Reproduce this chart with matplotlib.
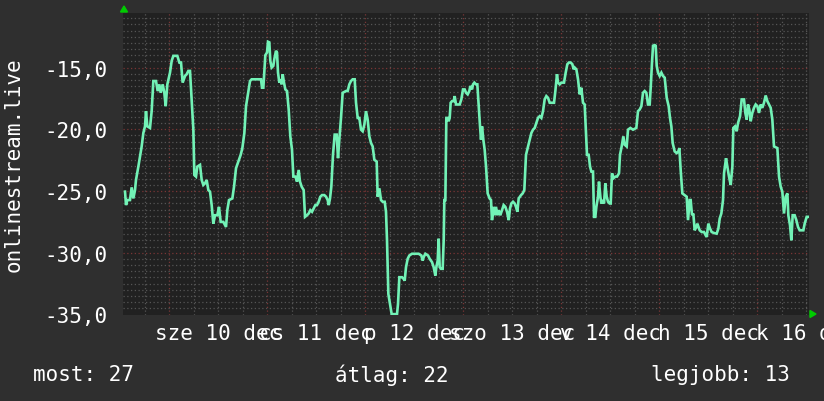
import matplotlib
matplotlib.use("Agg")
import matplotlib.pyplot as plt
from matplotlib.patches import Polygon

# hours since 10 Dec 00:00
hours = [
    -10.85, -10.60, -10.28, -9.63, -9.22, -8.81, -8.40, -8.16, -7.58, -7.18, -6.77, -6.36, -5.95, -5.71, -5.38,
    -4.73, -4.32, -3.91, -3.26, -2.85, -2.44, -2.11, -1.62, -1.22, -0.89, -0.48, 0.17, 0.58, 0.99, 1.97, 2.46,
    2.87, 3.27, 3.85, 4.25, 4.66, 5.07, 5.31, 5.89, 6.13, 6.54, 6.87, 7.52, 7.93, 8.33, 8.74, 9.15, 9.56, 9.97,
    10.38, 10.78, 11.19, 11.76, 12.17, 12.58, 13.23, 13.89, 14.21, 14.62, 15.44, 15.85, 16.34, 16.91, 17.48,
    17.89, 18.38, 18.79, 19.19, 19.77, 20.17,
    22.46, 22.70, 23.03, 23.27, 23.52, 23.93, 24.17, 24.50, 24.74, 25.07, 25.48, 25.72, 26.13, 26.38, 26.62,
    26.95, 27.19, 27.52, 27.77, 28.09, 28.42, 28.83, 29.24, 29.64, 30.05, 30.38, 30.87, 31.28, 31.68, 32.01,
    32.42, 32.91, 33.24, 33.72, 34.13, 34.54, 34.95, 35.36, 35.77, 36.17, 36.58, 36.99, 37.40, 37.97, 38.38,
    38.79, 39.03, 39.36, 39.68, 40.09, 40.50, 40.99, 41.32, 41.64, 42.05, 42.46, 43.28, 43.69, 44.09, 44.50,
    44.91, 45.40, 45.73, 46.14, 46.54, 46.95, 47.36, 47.77, 48.17, 48.58, 48.99, 49.40, 49.81, 50.22, 50.79,
    51.03, 51.44, 51.85, 52.26, 52.75, 53.07, 53.32, 53.65, 54.05, 54.46,
    55.77, 56.01, 56.34, 56.99, 57.40, 57.65, 57.97, 58.38, 58.79, 59.44, 60.26, 61.07, 61.73, 62.05, 62.30,
    62.71, 63.36, 63.77, 64.34, 64.75, 65.16, 65.40, 65.73, 65.97, 66.22, 66.54, 66.95, 67.20, 67.36, 67.61,
    67.85, 68.18, 68.42, 68.67, 68.91, 69.24, 69.65, 69.89, 70.22, 70.63, 71.12, 71.52, 71.93, 72.34, 72.67,
    73.08, 73.48, 73.73, 74.14, 74.38, 74.71, 75.12, 75.44, 75.77, 76.10, 76.34, 76.59, 76.91, 77.24, 77.57,
    77.97, 78.46, 78.79, 79.03, 79.44, 79.69, 80.01, 80.34, 80.67, 81.07, 81.48, 81.89, 82.30, 82.71, 83.12,
    83.44, 83.77, 84.18, 84.59, 84.91, 85.24, 85.57, 86.14, 86.55, 86.95, 87.36,
    88.26, 88.67, 89.08, 89.49, 89.89, 90.30, 90.71, 91.12, 91.53, 91.93, 92.34, 92.75, 93.16, 93.57, 94.22,
    94.55, 94.95, 95.20, 95.61, 96.02, 96.67, 97.08, 97.48, 97.89, 98.30, 98.71, 99.04, 99.28, 99.69, 100.10,
    100.51, 100.91, 101.32, 101.73, 101.98, 102.30, 102.71, 103.04, 103.36, 103.77, 104.02, 104.34, 104.59,
    105.00, 105.24, 105.57, 105.81, 106.06, 106.47, 106.79, 107.12, 107.45, 107.85, 108.10, 108.42, 108.75,
    109.24, 109.65, 110.14, 110.38, 110.79, 111.20, 111.53, 112.02, 112.34, 112.92, 113.57, 114.38, 114.79,
    115.20, 115.61, 116.02, 116.43, 116.83, 117.24, 117.65, 117.90, 118.22, 118.47, 118.88, 119.12, 119.37,
    119.69, 120.10, 120.51, 120.92, 121.33,
    121.82, 122.30, 122.63, 122.96, 123.28, 123.77, 124.26, 124.67, 124.92, 125.24, 125.65, 126.22, 126.71,
    127.04, 127.45, 127.69, 128.02, 128.34, 128.67, 129.08, 129.32, 129.90, 130.39, 130.96, 131.37, 131.61,
    132.02, 132.43, 132.84, 133.41, 134.06, 134.47, 134.80, 135.20, 135.61, 135.86, 136.35, 136.67, 137.08,
    137.49, 137.90, 138.14, 138.55, 138.96, 139.29, 139.78, 140.18, 140.75, 141.08, 141.41, 141.73, 142.06,
    142.39, 142.79, 143.20, 143.61, 144.02, 144.43, 144.84, 145.24, 145.65, 146.06, 146.47, 146.88, 147.29,
    147.69, 148.10, 148.92, 149.33, 149.74, 150.14, 150.55, 150.96, 151.37, 151.61, 152.02, 152.35, 152.67,
    153.16, 153.57, 153.98, 154.39, 154.96, 155.29, 155.61, 156.10, 156.43,
]

temps = [
    -25.05, -26.14, -25.73, -25.73, -24.70, -25.60, -24.92, -24.10, -23.02, -22.20, -21.39, -20.30, -19.76, -18.53, -19.76,
    -19.89, -18.53, -16.09, -16.09, -16.90, -16.36, -17.04, -16.36, -17.04, -18.13, -16.36, -15.41, -14.46, -14.05, -14.05, -14.59,
    -14.59, -16.22, -15.68, -15.54, -15.27, -15.27, -16.63, -20.03, -23.70, -23.83, -23.02, -22.88, -24.10, -24.51, -24.38, -24.10, -24.92, -25.05,
    -26.14, -27.64, -26.96, -26.96, -26.28, -27.50, -27.50, -27.91, -26.55, -25.73, -25.60, -24.65, -23.15, -22.61, -22.07,
    -21.52, -20.30, -18.13, -17.31, -16.09, -15.95,
    -15.95, -16.63, -16.63, -15.27, -14.00, -13.78, -12.91, -12.96, -14.46, -15.00, -14.86, -14.32, -13.64, -13.78, -15.41,
    -16.22, -15.95, -16.36, -15.54, -16.22, -16.77, -16.90, -18.40, -20.57, -21.66, -23.83, -23.83, -24.24, -23.29, -24.24,
    -24.65, -24.92, -27.09, -26.96, -26.82, -26.55, -26.68, -26.41, -26.14, -26.14, -25.87, -25.46, -25.33, -25.33, -25.46,
    -25.73, -26.14, -25.60, -24.65, -22.07, -20.43, -20.43, -22.34, -20.84, -19.08, -17.04, -16.90, -16.90, -16.36, -16.09,
    -15.95, -15.95, -17.85, -19.08, -19.08, -20.03, -20.16, -19.62, -18.53, -19.21, -20.57, -21.11, -21.39, -22.47, -22.61,
    -25.46, -24.78, -25.73, -25.87, -25.87, -26.68, -28.99, -33.34, -34.16, -34.97,
    -34.97, -34.16, -31.98, -31.98, -32.12, -32.26, -31.17, -30.49, -30.22, -30.08, -30.08, -30.08, -30.22, -30.63, -30.35,
    -30.08, -30.22, -30.49, -30.76, -31.17, -31.85, -31.17, -30.63, -28.86, -31.17, -31.30, -31.30, -28.99, -25.73, -25.73,
    -19.08, -19.08, -19.35, -19.08, -17.85, -17.72, -17.72, -17.31, -17.99, -17.99, -17.99, -17.58, -16.77, -16.77, -17.04,
    -17.17, -16.90, -16.49, -16.77, -16.36, -16.22, -16.36, -16.36, -18.13, -19.76, -20.84, -19.76, -20.84, -21.66, -23.02,
    -25.19, -25.60, -25.73, -27.36, -26.28, -26.96, -26.28, -26.96, -26.55, -26.96, -26.55, -26.14, -26.28, -26.68, -27.36,
    -26.41, -26.01, -25.87, -26.01, -26.28, -26.68, -25.60, -25.33, -25.19, -24.92, -22.07,
    -20.84, -20.30, -20.03, -19.89, -19.48, -19.08, -18.94, -19.08, -18.53, -17.58, -17.31, -17.45, -17.85, -17.85, -17.85,
    -16.90, -15.54, -16.22, -16.36, -16.22, -16.22, -15.41, -14.73, -14.59, -14.59, -14.73, -15.14, -15.00, -15.14, -15.95,
    -17.17, -16.63, -17.85, -17.99, -19.76, -22.07, -22.07, -23.02, -23.42, -23.42, -27.09, -27.09, -26.28,
    -25.46, -24.24, -25.46, -26.01, -25.73, -26.01, -24.38, -25.46, -25.87, -26.01, -26.01, -23.56, -23.97,
    -23.83, -23.83, -23.56, -22.07, -21.39, -20.57, -21.25, -21.39, -20.03, -19.89, -20.03, -19.89, -18.53,
    -18.40, -18.13, -17.04, -16.90, -17.04, -17.99, -17.99, -16.63, -14.59, -13.23, -13.18, -13.23, -14.86,
    -15.41, -15.68, -15.41, -15.68, -15.82,
    -17.45, -18.13, -19.08, -19.76, -21.11, -21.79, -21.93, -21.79, -21.52, -23.29, -25.19, -25.33, -25.46,
    -27.36, -25.73, -25.73, -26.96, -26.82, -28.18, -27.91, -27.64, -28.18, -28.32, -28.32, -28.59, -28.72,
    -27.64, -28.04, -28.32, -28.40, -28.45, -28.04, -27.23, -26.82, -25.73, -23.56, -22.34, -23.02, -23.83,
    -24.51, -23.02, -19.89, -19.76, -20.16, -19.48, -18.94, -17.58, -17.58, -18.67, -19.21, -17.99, -18.40,
    -19.35, -18.67, -18.26, -17.99, -18.13, -18.67, -17.99, -18.26, -17.85, -17.26, -17.72, -17.99, -18.26,
    -19.21, -21.39, -21.52, -23.83, -24.65, -25.05, -26.82, -25.46, -25.19, -26.96, -27.77, -28.99, -26.96,
    -26.96, -27.36, -27.91, -28.18, -28.18, -28.18, -27.64, -27.09, -27.09,
]

day_labels = ["sze 10 dec", "cs 11 dec", "p 12 dec", "szo 13 dec", "v 14 dec", "h 15 dec", "k 16 dec"]
y_ticks = [-35, -30, -25, -20, -15]
y_tick_labels = ["-35,0", "-30,0", "-25,0", "-20,0", "-15,0"]
y_title = "onlinestream.live"
legend_items = ["most: 27", "átlag: 22", "legjobb: 13"]

BG = "#2f2f2f"
PLOT_BG = "#212121"
LINE = "#72f2b6"
MINOR = "#555555"
MAJOR = "#7a3535"
FONT = "DejaVu Sans Mono"
FS = 15

W, H = 824, 402
fig = plt.figure(figsize=(W / 100, H / 100), dpi=100, facecolor=BG)
L, R, T, B = 123, 809, 14, 315.5
ax = fig.add_axes([L / W, 1 - B / H, (R - L) / W, (B - T) / H], facecolor=PLOT_BG)

xmin, xmax = -11.34, 156.67
ymin, ymax = -35.0, -10.58
ax.set_xlim(xmin, xmax)
ax.set_ylim(ymin, ymax)

dot = (0, (1, 2))
# vertical grid
h = -6
while h <= xmax:
    if h >= xmin:
        major = (h % 24 == 0)
        ax.axvline(h, color=MAJOR if major else MINOR, lw=0.9, ls=dot, zorder=1)
    h += 6
# horizontal grid
v = -35.0
while v < ymax:
    major = (round(v * 2) % 10 == 0)
    if v > ymin:
        ax.axhline(v, color=MAJOR if major else MINOR, lw=0.9, ls=dot, zorder=1)
    v += 0.5

ax.plot(hours, temps, color=LINE, lw=1.9, zorder=3, solid_joinstyle="miter")

for s in ax.spines.values():
    s.set_visible(False)

ax.set_yticks(y_ticks)
ax.set_yticklabels(y_tick_labels)
ax.set_xticks([12 + 24 * i for i in range(len(day_labels))])
ax.set_xticklabels(day_labels)
ax.tick_params(axis="both", length=0, colors="white", labelsize=FS)
ax.tick_params(axis="x", pad=6)
ax.tick_params(axis="y", pad=11.5)
for lab in ax.get_xticklabels() + ax.get_yticklabels():
    lab.set_fontfamily(FONT)

fig.text(14 / W, 1 - 165 / H, y_title, rotation=90, ha="center", va="center",
         color="white", fontsize=FS, family=FONT)

xs = [33, 335, 651]
for x, t in zip(xs, legend_items):
    fig.text(x / W, 1 - 375 / H, t, ha="left", va="center", color="white",
             fontsize=FS, family=FONT)

# axis arrows
fig.patches.append(Polygon([[120.5 / W, 1 - 13 / H], [127.5 / W, 1 - 13 / H], [124 / W, 1 - 7 / H]],
                           closed=True, transform=fig.transFigure, color="#00cc00", figure=fig))
fig.patches.append(Polygon([[810 / W, 1 - 311.5 / H], [810 / W, 1 - 318.5 / H], [816 / W, 1 - 315 / H]],
                           closed=True, transform=fig.transFigure, color="#00cc00", figure=fig))

fig.savefig("out.png", dpi=100, facecolor=BG)
